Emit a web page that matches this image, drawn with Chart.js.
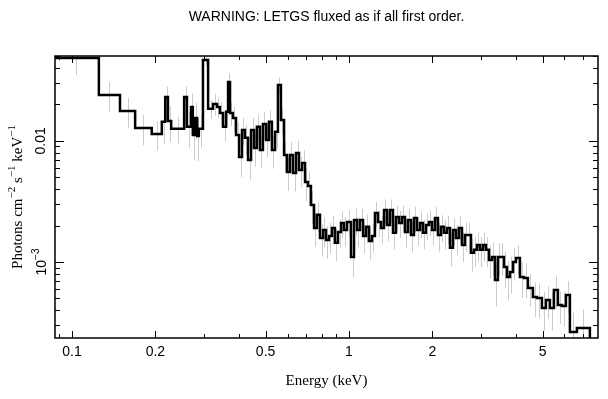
<!DOCTYPE html>
<html><head><meta charset="utf-8">
<script src="https://cdn.jsdelivr.net/npm/chart.js@4/dist/chart.umd.min.js"></script>
<style>html,body{margin:0;padding:0;background:#fff}#wrap{width:608px;height:399px;position:relative}</style>
</head><body><div id="wrap"><canvas id="c" width="608" height="399"></canvas></div>
<script>
// Bin edges (keV)
const binEdges = [0.085,0.125,0.149,0.169,0.194,0.211,0.217,0.222,0.228,0.254,0.260,0.269,0.273,0.278,0.283,0.287,0.297,
0.310,0.323,0.334,0.342,0.351,0.360,0.366,0.372,
0.381,0.391,0.401,0.411,0.421,0.432,0.443,0.454,0.465,0.477,
0.489,0.502,0.514,0.527,0.541,0.554,0.568,0.583,0.597,0.612,
0.628,0.644,0.660,0.677,0.694,0.711,0.729,0.748,0.766,0.786,
0.806,0.826,0.847,0.868,0.890,0.913,0.936,0.959,0.984,1.017,
1.043,1.069,1.096,1.124,1.152,1.181,1.211,1.241,1.273,1.305,
1.338,1.372,1.406,1.442,1.478,1.516,1.554,1.593,1.633,1.675,
1.717,1.760,1.805,1.850,1.897,1.945,1.994,2.045,2.096,2.149,
2.203,2.259,2.316,2.375,2.435,2.496,2.559,2.624,2.690,2.758,
2.828,2.899,2.972,3.047,3.124,3.203,3.284,3.367,3.452,3.539,
3.629,3.720,3.814,3.911,4.009,
4.144,4.283,4.428,4.616,4.772,4.975,5.143,5.318,5.497,5.682,5.875,6.074,6.278,6.654,7.413];

// Flux per bin (photons cm^-2 s^-1 keV^-1)
const flux = [0.0485,0.0240,0.0177,0.0128,0.0114,0.0144,0.0231,0.0146,0.0126,0.0231,0.0131,0.0191,0.0112,0.0155,0.0110,0.0126,0.0467,
0.0184,0.0202,0.0191,0.0170,0.0131,0.0174,0.0307,0.0170,0.0155,0.0112,
0.00738,0.0123,0.0106,0.00697,0.0123,0.00875,0.0131,0.00843,0.0138,0.0102,
0.0144,0.00843,0.0119,0.0290,0.0149,0.00766,0.00554,0.00766,0.00544,0.00796,
0.00576,0.00658,0.00458,0.00425,0.00296,0.00191,0.00245,0.00158,0.00184,0.00152,
0.00164,0.00191,0.00144,0.00177,0.00210,0.00184,0.00214,0.00110,0.00222,0.00184,
0.00222,0.00164,0.00195,0.00149,0.00164,0.00254,0.00214,0.00191,0.00269,0.00202,
0.00269,0.00174,0.00235,0.00210,0.00235,0.00177,0.00222,0.00167,0.00231,0.00184,
0.00210,0.00174,0.00202,0.00214,0.00184,0.00231,0.00167,0.00195,0.00174,0.00191,
0.00131,0.00184,0.00158,0.00191,0.00138,0.00167,0.00167,0.00119,0.00126,0.00138,
0.00126,0.00138,0.00126,0.00104,0.00110,0.000710,0.00110,0.00110,0.000909,0.000752,
0.000827,0.00100,0.00108,0.000752,0.000738,0.000610,0.000514,0.000504,0.000417,0.000485,
0.000417,0.000587,0.000441,0.000433,0.000534,0.000264,0.000285];

// Relative 1-sigma uncertainty per bin
const relErr = [0.28,0.28,0.28,0.28,0.27,0.35,0.22,0.33,0.25,0.22,0.33,0.3,0.38,0.33,0.38,0.3,0.1,
0.18,0.2,0.2,0.22,0.25,0.22,0.18,0.22,0.24,0.28,
0.32,0.26,0.28,0.32,0.26,0.3,0.25,0.3,0.26,0.28,
0.25,0.3,0.27,0.16,0.24,0.28,0.3,0.28,0.3,0.26,
0.28,0.27,0.3,0.3,0.3,0.3,0.28,0.3,0.28,0.3,
0.28,0.27,0.3,0.27,0.25,0.27,0.25,0.32,0.25,0.27,
0.25,0.28,0.26,0.3,0.27,0.24,0.25,0.26,0.22,0.27,
0.22,0.27,0.24,0.25,0.24,0.27,0.24,0.28,0.24,0.26,
0.25,0.27,0.25,0.24,0.26,0.24,0.27,0.25,0.27,0.26,
0.3,0.25,0.28,0.26,0.28,0.27,0.27,0.3,0.28,0.27,
0.28,0.27,0.28,0.3,0.3,0.4,0.3,0.3,0.33,0.36,
0.34,0.3,0.28,0.33,0.32,0.3,0.32,0.32,0.35,0.3,
0.35,0.3,0.3,0.32,0.3,0.45,0.42];

const xMajorTicks = [0.1, 0.2, 0.5, 1, 2, 5];
const xTickLabels = ['0.1', '0.2', '0.5', '1', '2', '5'];
const xMinorTicks = [0.09, 0.3, 0.4, 0.6, 0.7, 0.8, 0.9, 3, 4, 6, 7];
const yMajorTicks = [0.01, 0.001];
const yMinorTicks = [0.0003,0.0004,0.0005,0.0006,0.0007,0.0008,0.0009,0.002,0.003,0.004,0.005,0.006,0.007,0.008,0.009,0.02,0.03,0.04,0.05];
const chartTitle = 'WARNING: LETGS fluxed as if all first order.';
const xTitle = 'Energy (keV)';

const nBins = Math.min(flux.length, binEdges.length - 1);
const pts = [];
for (let i = 0; i < nBins; i++) pts.push({x: binEdges[i], y: flux[i]});
pts.push({x: binEdges[nBins], y: 1e-6});

const SANS = '"Liberation Sans", Arial, sans-serif';
const SERIF = '"Liberation Serif", "Times New Roman", serif';

function drawSupText(ctx, parts, cx, cy, size, fam) {
  let total = 0;
  const widths = parts.map(p => {
    ctx.font = (p[1] ? Math.round(size*0.7) : size) + 'px ' + fam;
    const w = ctx.measureText(p[0]).width; total += w; return w;
  });
  let x = cx - total/2;
  ctx.textAlign = 'left';
  parts.forEach((p, i) => {
    ctx.font = (p[1] ? Math.round(size*0.7) : size) + 'px ' + fam;
    ctx.fillText(p[0], x, p[1] ? cy - size*0.4 : cy);
    x += widths[i];
  });
}

const errorBars = {
  id: 'errorBars',
  beforeDatasetsDraw(chart) {
    const {ctx, chartArea, scales} = chart;
    ctx.save();
    ctx.beginPath();
    ctx.rect(chartArea.left, chartArea.top, chartArea.right - chartArea.left, chartArea.bottom - chartArea.top);
    ctx.clip();
    ctx.strokeStyle = '#cccccc';
    ctx.lineWidth = 1;
    for (let i = 0; i < nBins; i++) {
      const xc = Math.sqrt(binEdges[i] * binEdges[i+1]);
      const px = Math.round(scales.x.getPixelForValue(xc)) + 0.5;
      const hi = flux[i] * (1 + relErr[i]);
      const lo = Math.max(flux[i] * (1 - relErr[i]), 1e-7);
      ctx.beginPath();
      ctx.moveTo(px, scales.y.getPixelForValue(hi));
      ctx.lineTo(px, scales.y.getPixelForValue(lo));
      ctx.stroke();
    }
    ctx.restore();
  }
};

const frameAxes = {
  id: 'frameAxes',
  afterDraw(chart) {
    const {ctx, chartArea: a, scales} = chart;
    ctx.save();
    ctx.strokeStyle = '#000';
    ctx.lineWidth = 1.5;
    ctx.strokeRect(a.left, a.top, a.right - a.left, a.bottom - a.top);
    ctx.lineWidth = 1;
    const xt = (v, len) => {
      const px = Math.round(scales.x.getPixelForValue(v)) + 0.5;
      ctx.beginPath();
      ctx.moveTo(px, a.bottom); ctx.lineTo(px, a.bottom - len);
      ctx.moveTo(px, a.top); ctx.lineTo(px, a.top + len);
      ctx.stroke();
    };
    const yt = (v, len) => {
      const py = Math.round(scales.y.getPixelForValue(v)) + 0.5;
      ctx.beginPath();
      ctx.moveTo(a.left, py); ctx.lineTo(a.left + len, py);
      ctx.moveTo(a.right, py); ctx.lineTo(a.right - len, py);
      ctx.stroke();
    };
    xMajorTicks.forEach(v => xt(v, 7));
    xMinorTicks.forEach(v => xt(v, 4));
    yMajorTicks.forEach(v => yt(v, 9));
    yMinorTicks.forEach(v => yt(v, 5));

    ctx.fillStyle = '#000';
    ctx.font = '14px ' + SANS;
    ctx.textAlign = 'center';
    ctx.textBaseline = 'middle';
    xMajorTicks.forEach((v, i) => {
      ctx.fillText(xTickLabels[i], scales.x.getPixelForValue(v), 352);
    });
    ctx.fillText(chartTitle, (a.left + a.right) / 2, 17);
    ctx.font = '15px ' + SERIF;
    ctx.fillText(xTitle, (a.left + a.right) / 2, 381);

    const py1 = scales.y.getPixelForValue(0.01);
    ctx.save();
    ctx.translate(41, py1); ctx.rotate(-Math.PI/2);
    ctx.font = '14px ' + SANS; ctx.textAlign = 'center';
    ctx.fillText('0.01', 0, 0);
    ctx.restore();
    const py2 = scales.y.getPixelForValue(0.001);
    ctx.save();
    ctx.translate(42, py2); ctx.rotate(-Math.PI/2);
    drawSupText(ctx, [['10', false], ['\u22123', true]], 0, 0, 14, SANS);
    ctx.restore();

    ctx.save();
    ctx.translate(18, (a.top + a.bottom) / 2); ctx.rotate(-Math.PI/2);
    drawSupText(ctx, [['Photons cm', false], ['\u22122', true], [' s', false], ['\u22121', true], [' keV', false], ['\u22121', true]], 0, 0, 15, SERIF);
    ctx.restore();
    ctx.restore();
  }
};

new Chart(document.getElementById('c'), {
  type: 'line',
  data: {
    datasets: [{
      data: pts,
      stepped: 'before',
      borderColor: '#000',
      borderWidth: 2.5,
      pointRadius: 0,
      fill: false,
      tension: 0
    }]
  },
  options: {
    responsive: false,
    animation: false,
    devicePixelRatio: 1,
    layout: { padding: { left: 55, top: 56, right: 10, bottom: 61 } },
    plugins: { legend: { display: false }, title: { display: false }, tooltip: { enabled: false } },
    scales: {
      x: { type: 'logarithmic', min: 0.0868, max: 7.93, display: false },
      y: { type: 'logarithmic', min: 0.0002355, max: 0.0503, display: false }
    }
  },
  plugins: [errorBars, frameAxes]
});
</script>
</body></html>
